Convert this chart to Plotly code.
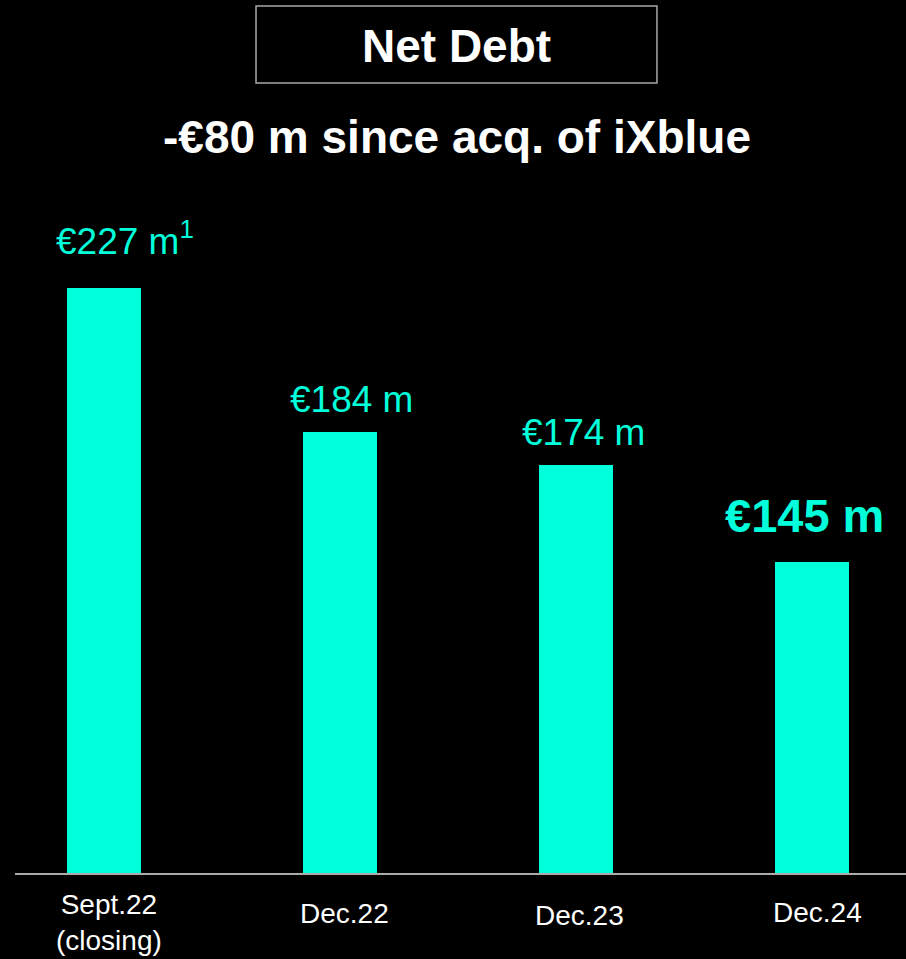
import plotly.graph_objects as go

categories = ["Sept.22<br>(closing)", "Dec.22", "Dec.23", "Dec.24"]
values = [227, 184, 174, 145]
value_labels = ["€227 m<sup>1</sup>", "€184 m", "€174 m", "<b>€145 m</b>"]

CYAN = "#00FFDA"
FONT = "Liberation Sans, Arial, sans-serif"

fig = go.Figure()
fig.add_trace(go.Bar(
    x=categories, y=values, width=0.3136,
    marker=dict(color=CYAN, line=dict(width=0)),
    hoverinfo="skip",
))

label_sizes = [37, 37, 37, 47]
x_shifts = [21, 11.5, 7.5, -7.5]
y_shifts = [50, 32, 33, 47]
for cat, v, lab, fs, xs, ys in zip(categories, values, value_labels, label_sizes, x_shifts, y_shifts):
    fig.add_annotation(
        x=cat, y=v, text=lab, showarrow=False,
        xanchor="center", yanchor="middle", xshift=xs, yshift=ys,
        font=dict(family=FONT, size=fs, color=CYAN),
    )

# Category labels under the axis (individually offset like the original slide)
tick_yshift = [-49.5, -40.5, -42, -39]
tick_xshift = [5, 4, 3, 5]
for cat, ys, xs in zip(categories, tick_yshift, tick_xshift):
    fig.add_annotation(
        x=cat, y=0, yref="paper", text=cat, showarrow=False,
        xanchor="center", yanchor="middle", yshift=ys, xshift=xs,
        font=dict(family=FONT, size=28, color="white"),
    )

# Title box
fig.add_shape(type="rect", xref="paper", yref="paper",
              x0=0.2705, x1=0.7205, y0=0.9049, y1=0.9931,
              line=dict(color="#A8A8A8", width=1.5), fillcolor="rgba(0,0,0,0)")
fig.add_annotation(xref="paper", yref="paper", x=0.496, y=0.9473,
                   text="<b>Net Debt</b>", showarrow=False,
                   xanchor="center", yanchor="middle",
                   font=dict(family=FONT, size=46, color="white"))
fig.add_annotation(xref="paper", yref="paper", x=0.4956, y=0.8431,
                   text="<b>-€80 m since acq. of iXblue</b>", showarrow=False,
                   xanchor="center", yanchor="middle",
                   font=dict(family=FONT, size=46, color="white"))

fig.update_layout(
    width=906, height=959,
    margin=dict(l=15, r=0, t=0, b=86, autoexpand=False),
    paper_bgcolor="black", plot_bgcolor="black",
    showlegend=False,
    bargap=0,
    xaxis=dict(
        type="category", range=[-0.377, 3.398],
        showline=True, linecolor="#ABABAB", linewidth=2,
        showgrid=False, zeroline=False, ticks="",
        showticklabels=False, automargin=False,
    ),
    yaxis=dict(range=[51.93, 313.2], visible=False, showgrid=False, zeroline=False,
               automargin=False),
)

fig.write_html(
    "out.html",
    config={"displayModeBar": False},
    post_script="document.body.style.margin='0';document.body.style.padding='0';"
                "document.body.style.background='black';document.body.style.overflow='hidden';",
)
